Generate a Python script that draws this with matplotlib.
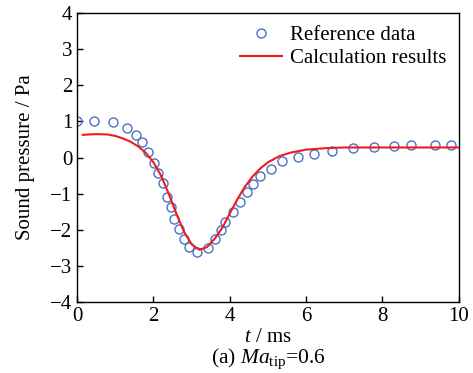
import matplotlib
matplotlib.use("Agg")
import matplotlib.pyplot as plt

plt.rcParams['font.family'] = ['Liberation Serif', 'DejaVu Serif']
plt.rcParams['mathtext.fontset'] = 'custom'
plt.rcParams['mathtext.rm'] = 'Liberation Serif'
plt.rcParams['mathtext.it'] = 'Liberation Serif:italic'

ref_t = [0.0, 0.44, 0.93, 1.30, 1.55, 1.71, 1.86, 2.01, 2.12, 2.24, 2.35, 2.45, 2.55,
         2.67, 2.79, 2.92, 3.13, 3.44, 3.62, 3.77, 3.88, 4.08, 4.26, 4.45, 4.60, 4.79,
         5.08, 5.38, 5.80, 6.20, 6.68, 7.23, 7.78, 8.30, 8.75, 9.37, 9.80]
ref_p = [1.0, 1.0, 0.99, 0.83, 0.63, 0.42, 0.15, -0.14, -0.42, -0.70, -1.08, -1.38, -1.69,
         -1.99, -2.26, -2.48, -2.62, -2.50, -2.26, -2.01, -1.77, -1.51, -1.22, -0.94, -0.73, -0.50,
         -0.32, -0.10, 0.01, 0.11, 0.19, 0.26, 0.29, 0.31, 0.34, 0.35, 0.35]

calc_t = [0.15, 0.5, 0.8, 1.0, 1.2, 1.4, 1.6, 1.8, 2.0, 2.2, 2.4, 2.6, 2.8, 3.0, 3.2,
          3.4, 3.6, 3.8, 4.0, 4.2, 4.4, 4.6, 4.8, 5.0, 5.3, 5.6, 6.0, 6.5, 7.0, 8.0, 9.0, 10.0]
calc_p = [0.63, 0.65, 0.64, 0.60, 0.53, 0.44, 0.31, 0.13, -0.13, -0.50, -1.0, -1.55, -2.05,
          -2.40, -2.55, -2.48, -2.25, -1.95, -1.55, -1.15, -0.80, -0.52, -0.30, -0.13, 0.04,
          0.14, 0.22, 0.26, 0.28, 0.28, 0.28, 0.28]

x_ticks = [0, 2, 4, 6, 8, 10]
y_ticks = [-4, -3, -2, -1, 0, 1, 2, 3, 4]

fig = plt.figure(figsize=(4.73, 3.73), dpi=100)
ax_left, ax_bottom, ax_w, ax_h = 0.163, 0.190, 0.807, 0.775
ax = fig.add_axes([ax_left, ax_bottom, ax_w, ax_h])

ax.plot(ref_t, ref_p, linestyle='none', marker='o', markersize=6.5,
        markerfacecolor='none', markeredgecolor='#4a72c4', markeredgewidth=1.0,
        label='Reference data')
ax.plot(calc_t, calc_p, color='#ee1c1c', linewidth=1.5, label='Calculation results')

ax.set_xlim(0, 10)
ax.set_ylim(-4, 4)
ax.set_xticks(x_ticks)
ax.set_yticks(y_ticks)
ax.tick_params(direction='in', labelsize=15, length=4.5, width=1, top=False, right=False)
for s in ax.spines.values():
    s.set_linewidth(1.0)

ax.set_ylabel('Sound pressure / Pa', fontsize=15, labelpad=11)
ax.set_xlabel('$\\it{t}$ / ms', fontsize=15, labelpad=1.5)
fig.text(ax_left + ax_w / 2, 0.026, '(a) $\\mathit{Ma}_{\\mathrm{tip}}$=0.6', fontsize=15.5,
         ha='center', va='baseline')

leg = ax.legend(loc='upper right', frameon=False, fontsize=15, handlelength=2.0,
                handletextpad=0.4, borderaxespad=0.2, labelspacing=0.15)

fig.savefig('out.png', dpi=100)
